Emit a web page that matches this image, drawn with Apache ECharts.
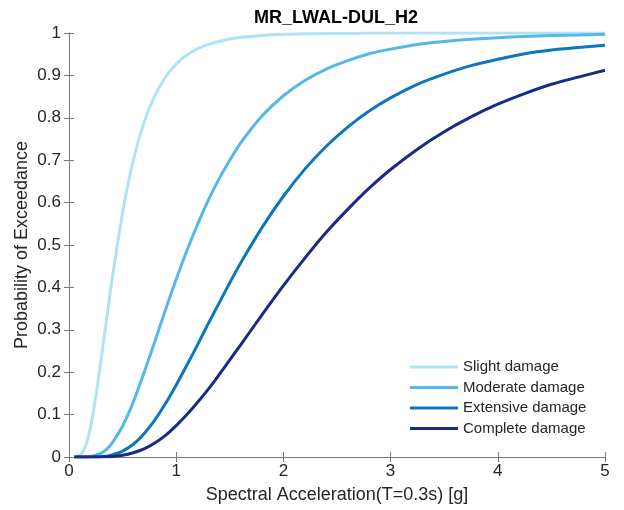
<!DOCTYPE html>
<html>
<head>
<meta charset="utf-8">
<script src="https://cdn.jsdelivr.net/npm/echarts@6/dist/echarts.min.js"></script>
<style>
  html, body { margin: 0; padding: 0; background: #fff; }
  #chart { width: 624px; height: 510px; }
</style>
</head>
<body>
<div id="chart"></div>
<script>
const saValues = [0.05, 0.1, 0.15, 0.2, 0.25, 0.3, 0.35, 0.4,
  0.5, 0.6, 0.7, 0.8, 0.9, 1.0, 1.1, 1.2, 1.3, 1.4, 1.5, 1.6,
  1.8, 2.0, 2.2, 2.4, 2.6, 2.8, 3.0,
  3.25, 3.5, 3.75, 4.0, 4.25, 4.5, 4.75, 5.0]

const slight = [0, 0.003, 0.023, 0.070, 0.142, 0.231, 0.324, 0.415,
  0.576, 0.700, 0.789, 0.852, 0.896, 0.927, 0.948, 0.963, 0.973, 0.980, 0.986, 0.990,
  0.994, 0.997, 0.998, 0.999, 0.999, 1.0, 1.0,
  1.0, 1.0, 1.0, 1.0, 1.0, 1.0, 1.0, 1.0]

const moderate = [0, 0, 0.0001, 0.001, 0.004, 0.009, 0.018, 0.032,
  0.073, 0.130, 0.199, 0.272, 0.347, 0.419, 0.487, 0.549, 0.606, 0.656, 0.700, 0.740,
  0.804, 0.852, 0.888, 0.915, 0.935, 0.951, 0.962,
  0.973, 0.980, 0.985, 0.989, 0.992, 0.994, 0.995, 0.997]

const extensive = [0, 0, 0, 0.0001, 0.0003, 0.001, 0.002, 0.005,
  0.014, 0.030, 0.055, 0.087, 0.126, 0.170, 0.217, 0.265, 0.315, 0.363, 0.411, 0.457,
  0.541, 0.615, 0.679, 0.733, 0.778, 0.816, 0.847,
  0.879, 0.903, 0.923, 0.938, 0.951, 0.960, 0.966, 0.971]

const complete = [0, 0, 0, 0, 0, 0.0002, 0.0005, 0.001,
  0.004, 0.010, 0.019, 0.033, 0.051, 0.074, 0.100, 0.129, 0.160, 0.194, 0.229, 0.264,
  0.335, 0.404, 0.469, 0.530, 0.584, 0.634, 0.678,
  0.726, 0.767, 0.802, 0.832, 0.857, 0.879, 0.896, 0.912]

const seriesNames = ['Slight damage', 'Moderate damage', 'Extensive damage', 'Complete damage']
const seriesValues = [slight, moderate, extensive, complete]
const colors = ['#aee4f6', '#52b9e9', '#0c76be', '#1b2a87']

const font = 'Liberation Sans, Arial, Helvetica, sans-serif'
const axisColor = '#7a7a7a'
const textColor = '#262626'

const chart = echarts.init(document.getElementById('chart'))

const tickAxis = {
  axisLine: { show: true, lineStyle: { color: axisColor, width: 1 } },
  axisTick: { show: true, inside: true, length: 5, lineStyle: { color: axisColor } },
  splitLine: { show: false },
}

const option = {
  animation: false,
  color: colors,
  title: {
    text: 'MR_LWAL-DUL_H2',
    left: 331,
    top: 4,
    textAlign: 'center',
    textStyle: { fontFamily: font, fontSize: 18, fontWeight: 'bold', color: '#000' },
  },
  legend: {
    data: seriesNames,
    orient: 'vertical',
    left: 410,
    top: 357,
    icon: 'rect',
    itemWidth: 48,
    itemHeight: 3,
    itemGap: 0.5,
    textStyle: { fontFamily: font, fontSize: 15, color: textColor, lineHeight: 20 },
    padding: 0,
  },
  grid: { left: 69, right: 19, top: 33, bottom: 53 },
  xAxis: [
    {
      type: 'value',
      min: 0,
      max: 5,
      interval: 1,
      name: 'Spectral Acceleration(T=0.3s) [g]',
      nameLocation: 'middle',
      nameGap: 29,
      nameTextStyle: { fontFamily: font, fontSize: 18, color: textColor },
      axisLabel: { fontFamily: font, fontSize: 17, color: textColor, margin: 6 },
      ...tickAxis,
    },
    {
      type: 'value',
      position: 'top',
      min: 0,
      max: 5,
      interval: 1,
      axisLabel: { show: false },
      ...tickAxis,
    },
  ],
  yAxis: [
    {
      type: 'value',
      min: 0,
      max: 1,
      interval: 0.1,
      name: 'Probability of Exceedance',
      nameLocation: 'middle',
      nameGap: 38,
      nameMoveOverlap: false,
      nameTextStyle: { fontFamily: font, fontSize: 18, color: textColor },
      axisLabel: { fontFamily: font, fontSize: 17, color: textColor, margin: 8 },
      ...tickAxis,
    },
    {
      type: 'value',
      position: 'right',
      min: 0,
      max: 1,
      interval: 0.1,
      axisLabel: { show: false },
      ...tickAxis,
    },
  ],
  series: seriesNames.map((name, i) => ({
    name,
    type: 'line',
    data: saValues.map((x, j) => [x, seriesValues[i][j]]),
    smooth: 0.3,
    showSymbol: false,
    symbol: 'none',
    lineStyle: { width: 3, color: colors[i] },
    itemStyle: { color: colors[i] },
  })),
}

chart.setOption(option)
</script>
</body>
</html>
